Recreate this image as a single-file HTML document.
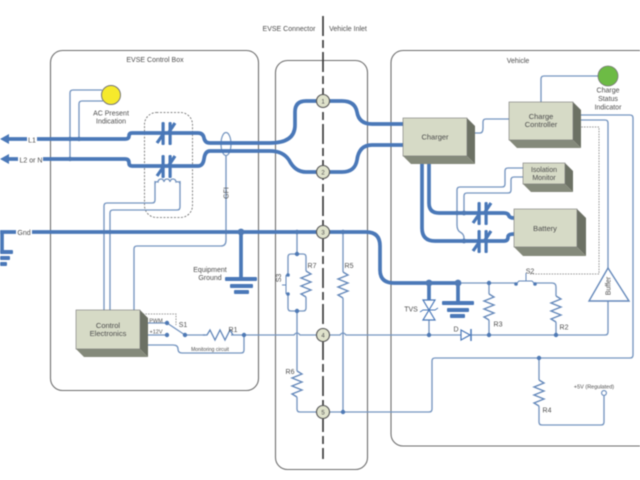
<!DOCTYPE html>
<html><head><meta charset="utf-8"><style>
html,body{margin:0;padding:0;background:#fff;width:640px;height:480px;overflow:hidden}
svg{display:block;filter:blur(.4px)}
text{font-family:"Liberation Sans",sans-serif;font-size:7px;fill:#4d4d4d;text-anchor:middle}
.b{fill:none;stroke:#6e6e6e;stroke-width:1.1}
.h{fill:none;stroke:#4a78b8;stroke-width:3.7}
.t{fill:none;stroke:#7595c0;stroke-width:1.35}
.d{fill:#4f7ab5}
.bar{fill:#4a78b8}
.pin{fill:#dfe2cb;stroke:#555;stroke-width:1.1}
.f{fill:#d6dac6;stroke:#777;stroke-width:.6}
.r{fill:#6c7164}
.u{fill:#858a7b}
</style></head><body>
<svg width="640" height="480" viewBox="0 0 640 480" xmlns="http://www.w3.org/2000/svg">
<defs>
<path id="z" d="M0 0L5 3L-5 7L5 11L-5 15L5 19L-5 23L0 26" fill="none" stroke="#6488ba" stroke-width="1.35"/>
<path id="zh" d="M0 0L4 0 7-5 12 5 17-5 22 5 27-5 30 0" fill="none" stroke="#6488ba" stroke-width="1.35"/>
<g id="c">
<rect x="-3.500" y="0" width="3.200" height="23" rx="1.300" class="bar"/>
<rect x="3.500" y="0" width="3.200" height="23" rx="1.300" class="bar"/>
<path d="M10 1L4 10M-8 21L-1 11" stroke="#4a78b8" stroke-width="3.200" fill="none"/>
</g>
</defs>

<!-- enclosures -->
<rect class="b" x="50.500" y="50.500" width="208" height="340" rx="12"/>
<rect class="b" x="275.500" y="60.500" width="92" height="409" rx="12"/>
<rect class="b" x="391" y="50.500" width="260" height="395.500" rx="12"/>
<rect x="144.500" y="112.500" width="48" height="105" rx="12" fill="none" stroke="#666" stroke-width=".8" stroke-dasharray="2 1.500"/>

<!-- centre dashed line -->
<path d="M323 16V459" stroke="#333" stroke-width="1.600" stroke-dasharray="20 4 8 4" fill="none"/>

<!-- thin wires left -->
<path class="t" d="M102 90H73Q70 90 70 93V159"/>
<path class="t" d="M103 101H82Q79 101 79 104V139"/>
<path class="t" d="M155 181V200Q155 203 152 203H107Q104 203 104 206V310"/>
<path class="t" d="M180 181V207Q180 210 177 210H113Q110 210 110 213V310"/>
<path class="t" d="M155 184Q155 181 158 182A3 3 0 0 1 164 182A3 3 0 0 1 170 182A3 3 0 0 1 176 182Q180 181 180 184"/>
<path class="t" d="M226 155V240Q226 246 221 246H137Q134 246 134 249V310"/>
<ellipse cx="226" cy="144" rx="5" ry="11.500" fill="none" stroke="#7595c0" stroke-width="1.200"/>

<!-- heavy wires -->
<path class="h" d="M8 139H125Q129 139 129 136Q129 133 132 133H198Q203 133 204 138Q205 143 210 143H270Q295 143 295 125V112Q295 101 306 101H342Q355 101 357 112Q359 124 372 124H405"/>
<path class="h" d="M8 159H125Q129 159 129 163Q129 166 132 166H198Q203 166 204 159Q205 151 210 151H270Q283 151 289 160Q295 172 306 172H342Q355 172 357 160Q359 145 372 145H405"/>
<path class="h" d="M0 232H366Q380 232 380 246V270Q380 283 394 283H460"/>
<path class="h" d="M2 232V252M241 232V279M429 283V300M458 283V303"/>
<polygon class="bar" points="0,139 9,134 9,144"/>
<polygon class="bar" points="0,159 9,154 9,164"/>
<path class="h" d="M422 156V228Q422 241 435 241H504Q508 241 508 237Q508 234 514 234"/>
<path class="h" d="M429 156V203Q429 213 439 213H504Q508 213 509 216Q510 218 514 218"/>

<!-- contactors -->
<use href="#c" x="165" y="122"/>
<use href="#c" x="165" y="155"/>
<use href="#c" x="481" y="202"/>
<use href="#c" x="481" y="230"/>

<!-- ground bars -->
<rect class="bar" x="0" y="250" width="13" height="4" rx="1"/>
<rect class="bar" x="0" y="256" width="10" height="4" rx="1"/>
<rect class="bar" x="0" y="262" width="7" height="4" rx="1"/>
<rect class="bar" x="225" y="277" width="32" height="4" rx="1"/>
<rect class="bar" x="230" y="284" width="23" height="4" rx="1"/>
<rect class="bar" x="234" y="290" width="15" height="4" rx="1"/>
<rect class="bar" x="442" y="301" width="32" height="4" rx="1"/>
<rect class="bar" x="447" y="308" width="22" height="4" rx="1"/>
<rect class="bar" x="450" y="314" width="15" height="4" rx="1"/>

<!-- control electronics connections -->
<path class="t" d="M140 323H167L185 335H205M231 335H294Q297 331 300 335H340Q343 331 346 335H605Q608 335 608 332V301"/>
<path class="t" d="M140 335H167"/>
<path class="t" d="M148 345H173Q178 345 178 349Q178 353 182 353H241Q244 353 244 350V335"/>
<path d="M140 314H176V325" fill="none" stroke="#777" stroke-width=".8" stroke-dasharray="1.500 1.200"/>
<use href="#zh" x="203" y="335"/>

<!-- connector thin wires -->
<path class="t" d="M297 232V254M291 254H303Q306 254 306 257V271M306 297V308Q306 311 303 311H291Q288 311 288 308V294M288 275V257Q288 254 291 254"/>
<path class="t" d="M297 311V371M297 397V409Q297 412 300 412H429Q432 412 432 409V361Q432 358 435 358H630Q633 358 633 355V118Q633 115 630 115H572"/>
<path class="t" d="M343 232V272M343 298V412"/>
<path d="M286 275V294M286 285H282" fill="none" stroke="#6488ba" stroke-width="1"/>
<use href="#z" x="306" y="271"/>
<use href="#z" x="343" y="272"/>
<use href="#z" x="297" y="371"/>

<!-- vehicle thin wires -->
<path class="t" d="M541 102V79Q541 76 544 76H598"/>
<path class="t" d="M475 133H480Q483 133 483 128V122Q483 119 486 119H509"/>
<path class="t" d="M572 120H605Q608 120 608 123V268"/>
<path d="M530 274H599V127H573" fill="none" stroke="#777" stroke-width=".8" stroke-dasharray="1.500 1.200"/>
<path class="t" d="M523 168H508Q505 168 505 171V184Q505 187 502 187H460Q457 187 457 190V225Q457 230 460 232Q464 234 464 238V241"/>
<path class="t" d="M523 177H514Q511 177 511 180V190Q511 193 508 193H467Q464 193 464 196V213"/>
<path class="t" d="M460 283H516M535 283H552Q556 283 556 287V296M556 322V335"/>
<path d="M516 284L519 281H532L535 284M526 281V273" fill="none" stroke="#6488ba" stroke-width="1"/>
<path class="t" d="M489 283V294M489 320V335"/>
<path class="t" d="M429 300V335"/>
<path class="t" d="M539 358V380M539 406V422Q539 425 542 425H601Q604 425 604 422V396"/>
<circle cx="604" cy="393" r="2.400" fill="#fff" stroke="#6488ba" stroke-width="1.100"/>
<use href="#z" x="489" y="294"/>
<use href="#z" x="556" y="296"/>
<use href="#z" x="539" y="380"/>

<!-- TVS and Diode -->
<polygon points="423,300 435,300 429,310" fill="#fff" stroke="#4a78b8" stroke-width="1.200"/>
<polygon points="423,320 435,320 429,310" fill="#fff" stroke="#4a78b8" stroke-width="1.200"/>
<path d="M420 312L423 310H435L438 308" fill="none" stroke="#4a78b8" stroke-width="1"/>
<polygon points="461,330 461,340 470,335" fill="#fff" stroke="#4a78b8" stroke-width="1.200"/>
<path d="M471 329V341" stroke="#4a78b8" stroke-width="1.500"/>

<!-- buffer -->
<polygon points="608,268 629,301 589,301" fill="#fff" stroke="#6488ba" stroke-width="1.400"/>

<!-- dots -->
<g class="d">
<circle cx="70" cy="139" r="2.200"/><circle cx="79" cy="139" r="2.200"/><circle cx="70" cy="159" r="2.200"/>
<circle cx="241" cy="232" r="3.400"/><circle cx="429" cy="283" r="3.400"/><circle cx="458" cy="283" r="3.400"/>
<circle cx="297" cy="232" r="2.200"/><circle cx="343" cy="232" r="2.200"/><circle cx="297" cy="254" r="2.200"/><circle cx="297" cy="311" r="2.200"/>
<circle cx="288" cy="275" r="1.800"/><circle cx="288" cy="294" r="1.800"/>
<circle cx="343" cy="412" r="2.200"/><circle cx="429" cy="335" r="2.200"/><circle cx="489" cy="335" r="2.200"/><circle cx="556" cy="335" r="2.200"/>
<circle cx="489" cy="283" r="2.200"/><circle cx="516" cy="284" r="1.800"/><circle cx="535" cy="284" r="1.800"/>
<circle cx="539" cy="358" r="2.200"/><circle cx="167" cy="323" r="2.200"/><circle cx="167" cy="335" r="2.200"/><circle cx="185" cy="335" r="2.200"/><circle cx="244" cy="335" r="2.200"/>
<circle cx="457" cy="213" r="2.200"/><circle cx="464" cy="213" r="2.400"/><circle cx="464" cy="241" r="2.400"/>
<circle cx="104" cy="232" r="1.800"/><circle cx="110" cy="232" r="1.800"/><circle cx="226" cy="232" r="1.800"/>
</g>

<!-- indicators -->
<circle cx="111" cy="95" r="9.500" fill="#f6ea2c" stroke="#777" stroke-width="1"/>
<circle cx="608" cy="76" r="10" fill="#6dbb45" stroke="#777" stroke-width=".8"/>

<!-- pins -->
<g>
<circle class="pin" cx="323" cy="101" r="6.500"/><circle class="pin" cx="323" cy="172" r="6.500"/><circle class="pin" cx="323" cy="232" r="6.500"/><circle class="pin" cx="323" cy="335" r="6.500"/><circle class="pin" cx="323" cy="412" r="6.500"/>
</g>

<!-- boxes -->
<g>
<polygon class="r" points="140,310 148,318 148,357 140,349"/><polygon class="u" points="76,349 140,349 148,357 84,357"/><rect class="f" x="76" y="310" width="64" height="39"/>
<polygon class="r" points="467,118 475,126 475,164 467,156"/><polygon class="u" points="403,156 467,156 475,164 411,164"/><rect class="f" x="403" y="118" width="64" height="38"/>
<polygon class="r" points="573,102 581,110 581,148 573,140"/><polygon class="u" points="509,140 573,140 581,148 517,148"/><rect class="f" x="509" y="102" width="64" height="38"/>
<polygon class="r" points="565,163 573,171 573,192 565,184"/><polygon class="u" points="523,184 565,184 573,192 531,192"/><rect class="f" x="523" y="163" width="42" height="21"/>
<polygon class="r" points="577,209 586,218 586,256 577,247"/><polygon class="u" points="514,247 577,247 586,256 523,256"/><rect class="f" x="514" y="209" width="63" height="38"/>
</g>

<!-- label knockouts -->
<rect x="27" y="135" width="10" height="8" fill="#fff"/>
<rect x="18" y="155" width="25" height="8" fill="#fff"/>
<rect x="16" y="228" width="16" height="8" fill="#fff"/>

<!-- labels -->
<text x="289" y="31">EVSE Connector</text>
<text x="348" y="31">Vehicle Inlet</text>
<text x="155" y="62">EVSE Control Box</text>
<text x="518" y="63">Vehicle</text>
<text x="111" y="115.500">AC Present</text>
<text x="111" y="123.500">Indication</text>
<text x="32" y="142.500">L1</text>
<text x="31" y="162.500">L2 or N</text>
<text x="24" y="235">Gnd</text>
<text x="210" y="272">Equipment</text>
<text x="210" y="280">Ground</text>
<text transform="translate(228.500,193) rotate(-90)">GFI</text>
<text x="108" y="328" style="font-size:7.500px">Control</text>
<text x="108" y="336" style="font-size:7.500px">Electronics</text>
<text x="156" y="322.500" style="font-size:5.500px">PWM</text>
<text x="156" y="333.500" style="font-size:5.500px">+12V</text>
<text x="183" y="327">S1</text>
<text x="233" y="332">R1</text>
<text x="210" y="351" style="font-size:5px">Monitoring circuit</text>
<text x="435" y="139.500" style="font-size:7.500px">Charger</text>
<text x="541" y="119" style="font-size:7.500px">Charge</text>
<text x="541" y="127" style="font-size:7.500px">Controller</text>
<text x="544" y="172">Isolation</text>
<text x="544" y="180">Monitor</text>
<text x="545" y="231" style="font-size:7.500px">Battery</text>
<text x="608" y="92.500">Charge</text>
<text x="608" y="101">Status</text>
<text x="608" y="109.500">Indicator</text>
<text x="323" y="103.500" style="font-size:6px">1</text>
<text x="323" y="174.500" style="font-size:6px">2</text>
<text x="323" y="234.500" style="font-size:6px">3</text>
<text x="323" y="337.500" style="font-size:6px">4</text>
<text x="323" y="414.500" style="font-size:6px">5</text>
<text x="312" y="268">R7</text>
<text x="349" y="268">R5</text>
<text x="290" y="374">R6</text>
<text transform="translate(281,278) rotate(-90)">S3</text>
<text x="411" y="311.500">TVS</text>
<text x="456" y="331.500">D</text>
<text x="498" y="326.500">R3</text>
<text x="564" y="329.500">R2</text>
<text x="530" y="273.500">S2</text>
<text x="547" y="412.500">R4</text>
<text x="594" y="388.500" style="font-size:5.500px">+5V (Regulated)</text>
<text transform="translate(610.500,286) rotate(-90)">Buffer</text>
</svg>
</body></html>
